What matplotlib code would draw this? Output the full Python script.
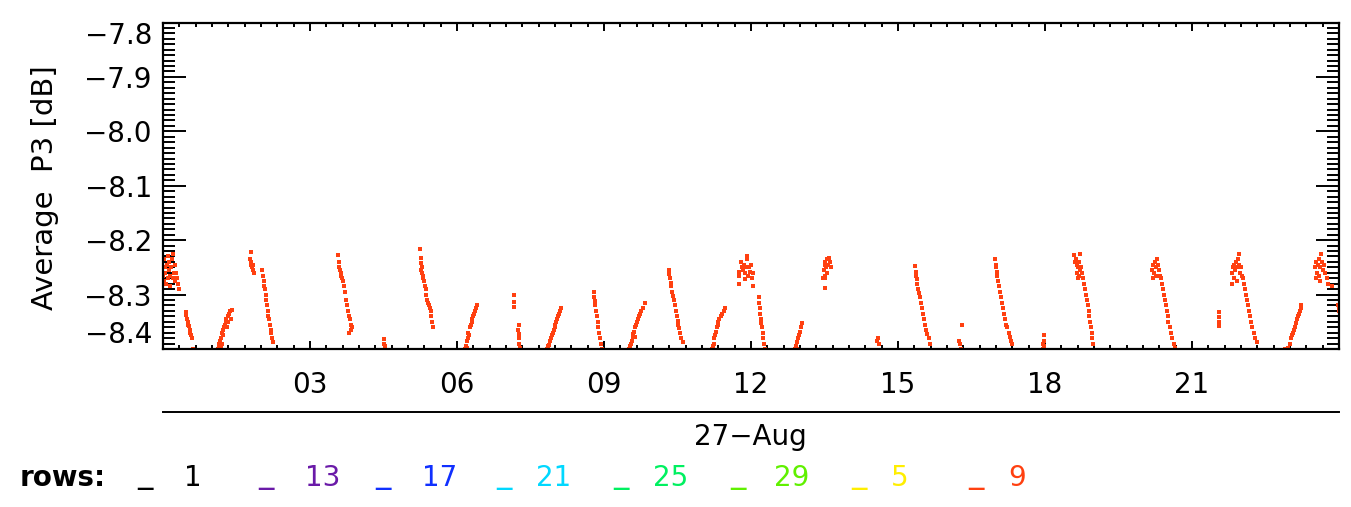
import matplotlib
matplotlib.use("Agg")
import matplotlib.pyplot as plt
from matplotlib.lines import Line2D
from matplotlib.ticker import FixedLocator
import numpy as np

# --- data: row 9 average P3 [dB] vs hour of 27-Aug ---
row9 = [
    # 00h blob
    (0.01, -8.265), (0.02, -8.235), (0.03, -8.275), (0.04, -8.25), (0.05, -8.26),
    (0.06, -8.28), (0.08, -8.245), (0.10, -8.27), (0.10, -8.23), (0.12, -8.24),
    (0.13, -8.255), (0.14, -8.285), (0.15, -8.265), (0.17, -8.25), (0.18, -8.235),
    (0.20, -8.27), (0.20, -8.225), (0.22, -8.26), (0.24, -8.245), (0.25, -8.275),
    (0.27, -8.26), (0.28, -8.27), (0.30, -8.28), (0.33, -8.29),
    (0.46, -8.332), (0.47, -8.338), (0.49, -8.345), (0.50, -8.35), (0.50, -8.355),
    (0.53, -8.358), (0.55, -8.365), (0.56, -8.37), (0.58, -8.375), (0.60, -8.38),
    (0.62, -8.40),
    (1.13, -8.40), (1.14, -8.395), (1.15, -8.39), (1.16, -8.40), (1.17, -8.385),
    (1.18, -8.398), (1.19, -8.38), (1.20, -8.37), (1.21, -8.39), (1.22, -8.365),
    (1.23, -8.375), (1.25, -8.36), (1.26, -8.355), (1.28, -8.35), (1.29, -8.345),
    (1.30, -8.36), (1.32, -8.34), (1.33, -8.35), (1.35, -8.335), (1.37, -8.33),
    (1.38, -8.345), (1.40, -8.328),
    (1.80, -8.222), (1.78, -8.235), (1.79, -8.24), (1.80, -8.245), (1.82, -8.25),
    (1.83, -8.255), (1.85, -8.26), (1.84, -8.245),
    (2.03, -8.255), (2.05, -8.265), (2.06, -8.275), (2.07, -8.285), (2.09, -8.29),
    (2.10, -8.30), (2.11, -8.31), (2.12, -8.32), (2.14, -8.33), (2.15, -8.34),
    (2.17, -8.345), (2.18, -8.355), (2.20, -8.365), (2.21, -8.37), (2.23, -8.38),
    (2.25, -8.387),
    (3.58, -8.228), (3.59, -8.24), (3.60, -8.25), (3.62, -8.255), (3.63, -8.26),
    (3.64, -8.265), (3.66, -8.27), (3.68, -8.275), (3.70, -8.285), (3.72, -8.295),
    (3.74, -8.31), (3.76, -8.32), (3.78, -8.33), (3.80, -8.34), (3.82, -8.345),
    (3.84, -8.355), (3.85, -8.36), (3.83, -8.365), (3.80, -8.37),
    (4.50, -8.382), (4.52, -8.39), (4.54, -8.395), (4.53, -8.40),
    (5.25, -8.217), (5.27, -8.232), (5.26, -8.242), (5.28, -8.25), (5.27, -8.255),
    (5.29, -8.26), (5.30, -8.265), (5.31, -8.27), (5.33, -8.275), (5.34, -8.285),
    (5.36, -8.29), (5.37, -8.30), (5.39, -8.31), (5.41, -8.315), (5.43, -8.32),
    (5.45, -8.325), (5.46, -8.33), (5.47, -8.34), (5.49, -8.35), (5.50, -8.36),
    (6.17, -8.40), (6.19, -8.395), (6.20, -8.385), (6.21, -8.398), (6.22, -8.38),
    (6.23, -8.37), (6.25, -8.375), (6.26, -8.36), (6.28, -8.355), (6.30, -8.35),
    (6.31, -8.345), (6.33, -8.34), (6.35, -8.335), (6.37, -8.33), (6.39, -8.325),
    (6.40, -8.32),
    (7.17, -8.300), (7.17, -8.313), (7.17, -8.322), (7.26, -8.355), (7.25, -8.365),
    (7.26, -8.372), (7.27, -8.38), (7.27, -8.39), (7.28, -8.398),
    (7.84, -8.40), (7.86, -8.395), (7.88, -8.392), (7.90, -8.385), (7.92, -8.38),
    (7.93, -8.375), (7.95, -8.37), (7.97, -8.365), (7.99, -8.36), (8.01, -8.355),
    (8.03, -8.35), (8.05, -8.345), (8.07, -8.34), (8.09, -8.335), (8.11, -8.33),
    (8.13, -8.325),
    (8.79, -8.295), (8.80, -8.305), (8.81, -8.312), (8.82, -8.32), (8.84, -8.33),
    (8.85, -8.34), (8.87, -8.35), (8.88, -8.36), (8.90, -8.37), (8.92, -8.38),
    (8.94, -8.39), (8.96, -8.40),
    (9.51, -8.40), (9.53, -8.395), (9.54, -8.40), (9.55, -8.39), (9.57, -8.385),
    (9.59, -8.378), (9.60, -8.372), (9.62, -8.368), (9.63, -8.378), (9.64, -8.36),
    (9.66, -8.355), (9.68, -8.35), (9.70, -8.345), (9.72, -8.34), (9.74, -8.335),
    (9.76, -8.33), (9.80, -8.325), (9.84, -8.315),
    (10.32, -8.255), (10.33, -8.262), (10.34, -8.27), (10.36, -8.278), (10.37, -8.285),
    (10.39, -8.295), (10.41, -8.302), (10.43, -8.31), (10.45, -8.32), (10.47, -8.33),
    (10.49, -8.34), (10.50, -8.348), (10.52, -8.355), (10.54, -8.362), (10.56, -8.37),
    (10.58, -8.38), (10.62, -8.387),
    (11.20, -8.40), (11.22, -8.395), (11.23, -8.40), (11.24, -8.39), (11.25, -8.38),
    (11.27, -8.375), (11.28, -8.368), (11.30, -8.36), (11.32, -8.355), (11.33, -8.35),
    (11.35, -8.345), (11.38, -8.34), (11.41, -8.335), (11.44, -8.33), (11.47, -8.325),
    (11.75, -8.258), (11.75, -8.265), (11.75, -8.28), (11.80, -8.24), (11.82, -8.25),
    (11.84, -8.255), (11.86, -8.245), (11.87, -8.272), (11.88, -8.26), (11.90, -8.25),
    (11.91, -8.23), (11.92, -8.235), (11.94, -8.265), (11.96, -8.25), (11.98, -8.258),
    (12.00, -8.245), (12.02, -8.27), (12.04, -8.26), (12.05, -8.285),
    (12.16, -8.305), (12.17, -8.315), (12.18, -8.325), (12.19, -8.335), (12.20, -8.345),
    (12.21, -8.352), (12.22, -8.36), (12.24, -8.37), (12.25, -8.38), (12.27, -8.39),
    (12.29, -8.40),
    (12.90, -8.40), (12.92, -8.395), (12.93, -8.40), (12.94, -8.388), (12.96, -8.38),
    (12.98, -8.375), (13.00, -8.368), (13.02, -8.36), (13.05, -8.352),
    (13.47, -8.27), (13.48, -8.255), (13.50, -8.245), (13.50, -8.265), (13.50, -8.287),
    (13.52, -8.24), (13.52, -8.27), (13.54, -8.25), (13.55, -8.26), (13.56, -8.235),
    (13.58, -8.245), (13.60, -8.232), (13.62, -8.24), (13.63, -8.25),
    (14.58, -8.385), (14.60, -8.38), (14.62, -8.39),
    (15.35, -8.248), (15.36, -8.258), (15.36, -8.265), (15.38, -8.272), (15.39, -8.28),
    (15.41, -8.29), (15.43, -8.298), (15.45, -8.305), (15.47, -8.315), (15.49, -8.325),
    (15.51, -8.335), (15.53, -8.345), (15.55, -8.355), (15.57, -8.365), (15.60, -8.372),
    (15.63, -8.38), (15.66, -8.39),
    (16.30, -8.355), (16.25, -8.385), (16.27, -8.39), (16.28, -8.40),
    (16.98, -8.235), (16.99, -8.245), (17.00, -8.25), (17.02, -8.258), (17.03, -8.265),
    (17.05, -8.275), (17.07, -8.285), (17.09, -8.295), (17.11, -8.305), (17.13, -8.315),
    (17.15, -8.325), (17.17, -8.335), (17.19, -8.345), (17.21, -8.355), (17.23, -8.36),
    (17.26, -8.37), (17.29, -8.378), (17.31, -8.385), (17.33, -8.39),
    (17.98, -8.375), (17.97, -8.385), (17.96, -8.39), (17.97, -8.395), (17.96, -8.40),
    (18.60, -8.228), (18.62, -8.24), (18.64, -8.235), (18.65, -8.26), (18.66, -8.245),
    (18.68, -8.25), (18.68, -8.27), (18.70, -8.24), (18.70, -8.265), (18.72, -8.255),
    (18.72, -8.225), (18.74, -8.25), (18.76, -8.26), (18.78, -8.27), (18.80, -8.28),
    (18.82, -8.29), (18.84, -8.30), (18.86, -8.31), (18.88, -8.32), (18.89, -8.33),
    (18.90, -8.34), (18.92, -8.35), (18.94, -8.36), (18.95, -8.37), (18.96, -8.38),
    (18.97, -8.39),
    (20.19, -8.255), (20.20, -8.27), (20.21, -8.245), (20.22, -8.26), (20.24, -8.24),
    (20.26, -8.25), (20.27, -8.265), (20.28, -8.235), (20.30, -8.245), (20.32, -8.255),
    (20.34, -8.265), (20.36, -8.27), (20.38, -8.28), (20.40, -8.29), (20.42, -8.30),
    (20.44, -8.31), (20.46, -8.32), (20.48, -8.33), (20.50, -8.34), (20.52, -8.35),
    (20.55, -8.36), (20.58, -8.37), (20.60, -8.38), (20.63, -8.39), (20.66, -8.398),
    (21.55, -8.332), (21.55, -8.341), (21.55, -8.35), (21.55, -8.358),
    (21.82, -8.26), (21.82, -8.28), (21.84, -8.25), (21.86, -8.245), (21.86, -8.27),
    (21.88, -8.255), (21.90, -8.24), (21.92, -8.25), (21.92, -8.275), (21.94, -8.235),
    (21.95, -8.226), (21.96, -8.245), (21.98, -8.26), (22.00, -8.25), (22.02, -8.265),
    (22.04, -8.27), (22.06, -8.28), (22.08, -8.29), (22.10, -8.30), (22.12, -8.31),
    (22.15, -8.32), (22.17, -8.33), (22.19, -8.34), (22.21, -8.35), (22.23, -8.36),
    (22.26, -8.37), (22.29, -8.38), (22.32, -8.388),
    (22.90, -8.40), (22.95, -8.398), (23.00, -8.39), (23.02, -8.38), (23.04, -8.375),
    (23.06, -8.37), (23.08, -8.365), (23.10, -8.36), (23.12, -8.352), (23.14, -8.345),
    (23.16, -8.34), (23.18, -8.335), (23.20, -8.33), (23.22, -8.325), (23.23, -8.32),
    (23.52, -8.25), (23.54, -8.24), (23.54, -8.27), (23.55, -8.26), (23.58, -8.245),
    (23.60, -8.235), (23.60, -8.265), (23.62, -8.25), (23.62, -8.275), (23.64, -8.225),
    (23.66, -8.24), (23.68, -8.255), (23.70, -8.245), (23.72, -8.26), (23.75, -8.27),
    (23.78, -8.28), (23.85, -8.285),
    (23.98, -8.32), (23.99, -8.325), (24.00, -8.33),
]

hour_ticks = [3, 6, 9, 12, 15, 18, 21]
hour_labels = ["03", "06", "09", "12", "15", "18", "21"]
p3_ticks = [-8.4, -8.3, -8.2, -8.1, -8.0, -7.9, -7.8]

rows = ["1", "13", "17", "21", "25", "29", "5", "9"]
row_colors = ["#000000", "#6a1aa8", "#1030ff", "#00d8ff", "#00f060", "#60f000", "#ffee00", "#ff4010"]

W, H = 1351, 507
FS = 20
fig = plt.figure(figsize=(W / 100, H / 100), dpi=100)
ax = fig.add_axes([163 / W, 1 - 349 / H, (1339 - 163) / W, (349 - 22.5) / H])

pts = np.array(row9)
ax.plot(pts[:, 0], pts[:, 1], "s", color=row_colors[-1], ms=2.6, mew=0)

ax.set_xlim(0, 24)
ax.set_ylim(-8.4, -7.8)

ax.xaxis.set_major_locator(FixedLocator(hour_ticks))
ax.xaxis.set_minor_locator(FixedLocator(np.arange(0, 24.01, 1 / 3)))
ax.set_xticklabels(hour_labels)
ax.yaxis.set_major_locator(FixedLocator(p3_ticks))
ax.yaxis.set_minor_locator(FixedLocator(np.arange(-8.4, -7.795, 0.01)))
ax.set_yticklabels([f"\u2212{abs(v):.1f}" for v in p3_ticks])

for s in ax.spines.values():
    s.set_linewidth(1.6)
ax.tick_params(axis="both", which="both", direction="in", top=True, right=True,
               colors="black", labelsize=FS, width=1.4)
ax.tick_params(axis="y", which="major", length=16.5, pad=8)
ax.tick_params(axis="y", which="minor", length=8.5)
ax.tick_params(axis="x", which="major", length=6, pad=16)
ax.tick_params(axis="x", which="minor", length=3)

ylabs = ax.get_yticklabels()
ylabs[0].set_va("bottom")
ylabs[-1].set_va("top")

fig.text(45 / W, 1 - 188 / H, "Average  P3 [dB]", rotation=90, ha="center", va="center", fontsize=21)

# date axis line and label
fig.add_artist(Line2D([163 / W, 1339 / W], [1 - 412 / H] * 2, transform=fig.transFigure,
                      color="black", lw=1.4))
fig.text(750 / W, 1 - 437 / H, "27\u2212Aug", ha="center", va="center", fontsize=FS)

# rows legend
ly = 1 - 478 / H
fig.text(20 / W, ly, "rows:", ha="left", va="center", fontsize=FS, fontweight="bold")
bar_x = [137, 258, 375, 496, 613, 730, 851, 968]
num_x = [184, 305, 422, 536, 653, 774, 891, 1008]
for r, c, bx, nx in zip(rows, row_colors, bar_x, num_x):
    fig.text(bx / W, 1 - 483 / H, "_", ha="left", va="baseline", fontsize=22, color=c)
    fig.text(nx / W, ly, r, ha="left", va="center", fontsize=FS, color=c)

fig.savefig("out.png", dpi=100, facecolor="white")
